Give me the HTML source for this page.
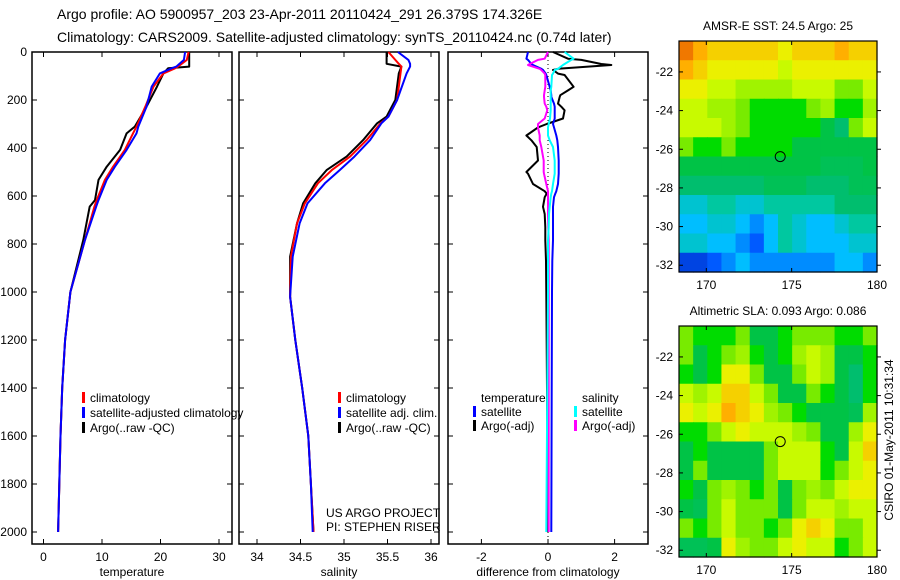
<!DOCTYPE html>
<html><head><meta charset="utf-8"><style>
body{margin:0;background:#fff;}
svg{display:block;font-family:"Liberation Sans",sans-serif;}
text{fill:#000;}
</style></head><body>
<svg id="s" width="900" height="580" viewBox="0 0 900 580"></svg>
<script>
// ---------- DATA ----------
const depthT = [0,33,61,68,89,144,228,311,339,408,478,533,617,644,783,1000,1200,1400,1600,1800,2000];
const tempClim = [24.8,24.5,23.0,22.5,20.5,18.8,17.4,15.9,15.3,13.9,11.9,10.5,9.1,8.7,7.1,4.6,3.7,3.2,2.9,2.7,2.5];
const tempSat  = [24.2,24.0,22.7,21.9,19.9,18.5,17.6,16.2,15.9,14.2,12.2,10.8,9.4,9.0,7.1,4.6,3.7,3.2,2.9,2.7,2.5];
const tempArgo = [24.9,24.9,24.9,21.3,20.5,19.4,17.6,15.6,14.2,13.1,10.8,9.4,8.8,7.9,6.8,4.6,3.7,3.2,2.9,2.7,2.5];
const depthS = [0,33,49,61,89,200,269,297,367,436,492,547,631,714,853,1019,1200,1400,1600,1800,2000];
const salClim = [35.51,35.59,35.63,35.66,35.65,35.61,35.51,35.42,35.26,35.07,34.86,34.70,34.55,34.46,34.39,34.38,34.44,34.52,34.59,34.62,34.65];
const salSat  = [35.62,35.74,35.76,35.76,35.72,35.61,35.51,35.43,35.30,35.12,34.95,34.78,34.58,34.49,34.41,34.38,34.44,34.52,34.59,34.62,34.64];
const salArgo = [35.49,35.49,35.49,35.66,35.63,35.59,35.49,35.38,35.22,35.03,34.80,34.67,34.53,34.46,34.38,34.38,34.44,34.52,34.59,34.62,34.65];
const depthD = [0,28,33,50,54,70,75,90,96,145,160,180,187,215,228,243,277,300,314,348,368,396,452,500,507,550,580,590,605,645,675,730,785,870,1000,1400,2000];
const dTempSat  = [-0.6,-0.65,-0.6,-0.5,-0.45,-0.2,-0.15,-0.07,-0.05,0.05,0.08,0.1,0.1,0.18,0.2,0.2,0.2,0.15,0.18,0.25,0.28,0.3,0.32,0.32,0.32,0.3,0.25,0.22,0.18,0.15,0.15,0.15,0.15,0.13,0.12,0.11,0.1];
const dTempArgo = [0.15,0.6,1.0,1.6,1.9,0.3,0.15,0.3,0.5,0.77,0.6,0.37,0.35,0.3,0.4,0.5,0.45,-0.04,-0.3,-0.65,-0.5,-0.34,-0.3,-0.65,-0.6,-0.45,-0.1,-0.04,-0.1,-0.15,-0.1,-0.08,-0.08,-0.06,-0.05,-0.03,0];
const dSalSat   = [0.5,0.77,0.7,0.5,0.45,0.3,0.2,0.15,0.12,0.1,0.08,0.08,0.08,0.08,0.08,0.08,0.06,0.02,0,0,0.05,0.15,0.2,0.2,0.2,0.15,0.12,0.1,0.08,0.05,0.03,0.02,0,0,0,-0.02,-0.05];
const dSalArgo  = [0,-0.1,-0.3,-0.55,-0.6,-0.25,-0.2,-0.1,-0.08,-0.08,-0.1,-0.12,-0.12,-0.1,-0.05,-0.02,-0.1,-0.3,-0.3,-0.25,-0.25,-0.2,-0.13,-0.13,-0.12,-0.05,0,0,0,0,0,0.01,0.02,0.02,0.02,0.02,0.02];
const depthTicks = [0,200,400,600,800,1000,1200,1400,1600,1800,2000];
const tempTicks = [0,10,20,30];
const salTicks = [34,34.5,35,35.5,36];
const diffTicks = [-2,0,2];
// map grids (colour level 0..10), rows north->south, cols west->east
const sstGrid = [
[9,8.5,8,8,8,8,8,7.5,8,8,8,8.5,8,8],
[8.5,8,7.5,7.5,7.5,7.5,7.5,7,7.5,7.5,7.5,7.5,7.5,7.5],
[7.5,7.5,7,7,6.5,6.5,6.5,6.5,7,7,7,6,6,7],
[7,7,6.5,6.5,6,5.5,5.5,5.5,5.5,6,6.5,5.5,5.5,6.5],
[7,7,7,6.5,6,5.5,5.5,5.5,5.5,5.5,5,4.5,6,7],
[6,5.5,5.5,6,5.5,5.5,5.5,5.5,5,5,5,5,5,5],
[5,5,5,5,5,5,5,5,5,5,4.8,4.8,4.8,5],
[4.5,4.5,4.5,4.5,4.5,4.5,4.8,4.8,4.8,4.5,4.5,4.5,4.8,4.8],
[3.5,3.5,4,4,3.5,3.5,4,4,4,4,4,4.5,4.5,4.5],
[3,3,3.5,3.5,3,2.5,3,4,3.5,3,3,3.5,4,4],
[3.5,3.5,3,3,2.5,2,3,4,3.5,3,3,3,3.5,3.5],
[1.5,1.5,2,2.5,3,2.5,2.5,2.5,2.5,2.5,2.5,3,3,2.5]];
const slaGrid = [
[6,5.5,5.5,5.5,6,5,5,5.5,6,6,6,5.5,5.5,6],
[6,5,5.5,6,6.5,5.5,5,5.5,6.5,7,6.5,5,5,5.5],
[5.5,5,5.5,7.5,7.5,6,5,5,6,7,6.5,5,4.5,5.5],
[7,6.5,7,8,8,7,6,5,5,6,5.5,5,4.5,5.5],
[7.5,7,7.5,8.5,8,7.5,6.5,6,5.5,5,5,5,4.8,6.5],
[5.5,5.5,6,7,7.5,7,7,7,6.5,6,5,5,6.5,7.5],
[5,5.5,5,5,5,5,6,7,7,7,5.5,5,7,8],
[5,6,5,5,5,5,6,7,7,7,5.5,6,7,7.5],
[5.5,5,6,6.5,6,5.5,6,5,6,6.5,6,7,7.5,7.5],
[5,4.8,6,7,6,6,6,5,6,7,7,6.5,7,7],
[6,5.5,6,7,6,6,5.5,6,7.5,8,7.5,6,6,7],
[4.8,4.8,5,7.5,6.5,6,6,7,7.5,7,7,5.5,6,7]];
const lonTicks=[170,175,180];
const latTicks=[-22,-24,-26,-28,-30,-32];
const argoPos=[174.33,-26.38];

// ---------- HELPERS ----------
const svg=document.getElementById('s');
const NS='http://www.w3.org/2000/svg';
function el(tag,attrs,parent){const e=document.createElementNS(NS,tag);for(const k in attrs)e.setAttribute(k,attrs[k]);(parent||svg).appendChild(e);return e;}
function txt(x,y,s,anchor,size,name){const t=el('text',{x:x,y:y,'font-size':size||12,'text-anchor':anchor||'start'});t.textContent=s;


return t;}
const Y0=52, PY=0.24;
const yD=d=>Y0+d*PY;
function panel(x0,x1,xs,ticks,label,name,leftLabels){
  const g=el('g',{});
  
  
  el('rect',{x:x0,y:52,width:x1-x0,height:492,fill:'none',stroke:'#000','stroke-width':1.5},g);
  ticks.forEach(v=>{const x=xs(v);el('line',{x1:x,x2:x,y1:544,y2:539,stroke:'#000'},g);el('line',{x1:x,x2:x,y1:52,y2:57,stroke:'#000'},g);
    const t=txt(x,561,String(v),'middle',12,'x-tick-label');g.appendChild(t);});
  depthTicks.forEach(d=>{const y=yD(d);el('line',{x1:x0,x2:x0+5,y1:y,y2:y,stroke:'#000'},g);el('line',{x1:x1,x2:x1-5,y1:y,y2:y,stroke:'#000'},g);
    if(leftLabels){const t=txt(x0-5,y+4,String(d),'end',12,'y-tick-label');g.appendChild(t);}});
  const t=txt((x0+x1)/2,576,label,'middle',12,'x-axis-title');g.appendChild(t);
  return g;
}
function line(xs,depths,vals,color,name,w){
  const pts=depths.map((d,i)=>xs(vals[i]).toFixed(1)+','+yD(d).toFixed(1)).join(' ');
  const p=el('polyline',{points:pts,fill:'none',stroke:color,'stroke-width':w||2,'stroke-linejoin':'round'});
  
  
}
function legend(x,y,color,label,name){
  const r=el('rect',{x:x,y:y-6,width:3,height:11,fill:color});
  
  
  txt(x+8,y+4,label,'start',12,name);
}

// ---------- TITLE ----------
txt(57,19,'Argo profile: AO 5900957_203 23-Apr-2011 20110424_291 26.379S 174.326E','start',14,'title-line-1');
txt(57,42,'Climatology: CARS2009. Satellite-adjusted climatology: synTS_20110424.nc (0.74d later)','start',14,'title-line-2');

// ---------- PANEL 1 temperature ----------
const xT=v=>43.5+v*5.85;
panel(32,232,xT,tempTicks,'temperature','temperature-panel',true);
line(xT,depthT,tempArgo,'#000','argo-temperature-line',2);
line(xT,depthT,tempClim,'#f00','climatology-temperature-line',2);
line(xT,depthT,tempSat,'#00f','satellite-temperature-line',2);
legend(82,398,'#f00','climatology','legend-climatology');
legend(82,413,'#00f','satellite-adjusted climatology','legend-satellite');
legend(82,428,'#000','Argo(..raw -QC)','legend-argo');

// ---------- PANEL 2 salinity ----------
const xS=v=>257+(v-34)*87;
panel(239,439,xS,salTicks,'salinity','salinity-panel',false);
line(xS,depthS,salArgo,'#000','argo-salinity-line',2);
line(xS,depthS,salClim,'#f00','climatology-salinity-line',2);
line(xS,depthS,salSat,'#00f','satellite-salinity-line',2);
legend(338,398,'#f00','climatology','legend-sal-climatology');
legend(338,413,'#00f','satellite adj. clim.','legend-sal-satellite');
legend(338,428,'#000','Argo(..raw -QC)','legend-sal-argo');
txt(326,517,'US ARGO PROJECT','start',12,'project-credit');
txt(326,531,'PI: STEPHEN RISER','start',12,'pi-credit');

// ---------- PANEL 3 difference ----------
const xDf=v=>548+v*33.3;
panel(448,648,xDf,diffTicks,'difference from climatology','difference-panel',false);
el('line',{x1:548,x2:548,y1:52,y2:544,stroke:'#000','stroke-dasharray':'1,3'});
line(xDf,depthD,dTempArgo,'#000','argo-temp-diff-line',2);
line(xDf,depthD,dTempSat,'#00f','satellite-temp-diff-line',2);
line(xDf,depthD,dSalArgo,'#f0f','argo-sal-diff-line',2);
line(xDf,depthD,dSalSat,'#0ff','satellite-sal-diff-line',2);
txt(481,402,'temperature','start',12,'legend-temperature-heading');
txt(582,402,'salinity','start',12,'legend-salinity-heading');
legend(473,412,'#00f','satellite','legend-diff-temp-sat');
legend(473,426,'#000','Argo(-adj)','legend-diff-temp-argo');
legend(574,412,'#0ff','satellite','legend-diff-sal-sat');
legend(574,426,'#f0f','Argo(-adj)','legend-diff-sal-argo');

// ---------- MAPS ----------
const palLevels=[0,2,3,4,4.5,5,5.5,6,7,7.5,8.5,9,10];
const palColors=[[0,0,140],[0,90,255],[0,190,255],[0,200,160],[0,190,110],[0,195,70],[0,220,0],[120,235,0],[200,250,0],[235,240,0],[255,175,0],[240,120,0],[200,40,0]];
function pal(v){
  if(v<=palLevels[0])return 'rgb('+palColors[0]+')';
  for(let i=1;i<palLevels.length;i++){if(v<=palLevels[i]){const f=(v-palLevels[i-1])/(palLevels[i]-palLevels[i-1]);
    const c=palColors[i-1].map((a,k)=>Math.round(a+(palColors[i][k]-a)*f));return 'rgb('+c+')';}}
  return 'rgb('+palColors[palColors.length-1]+')';
}
function map(top,bottom,grid,title,name){
  const x0=679,x1=877,lon0=168.4,lon1=180,lat0=-20.4,lat1=-32.35;
  const xm=l=>x0+(l-lon0)/(lon1-lon0)*(x1-x0);
  const ym=l=>top+(l-lat0)/(lat1-lat0)*(bottom-top);
  const g=el('g',{});
  
  
  const rows=grid.length,cols=grid[0].length,cw=(x1-x0)/cols,ch=(bottom-top)/rows;
  grid.forEach((row,i)=>row.forEach((v,j)=>{
    const c=el('rect',{x:x0+j*cw,y:top+i*ch,width:cw+0.6,height:ch+0.6,fill:pal(v)},g);
    
    
  }));
  el('rect',{x:x0,y:top,width:x1-x0,height:bottom-top,fill:'none',stroke:'#000','stroke-width':1.2},g);
  lonTicks.forEach(l=>{const x=xm(l);el('line',{x1:x,x2:x,y1:bottom,y2:bottom-4,stroke:'#000'},g);el('line',{x1:x,x2:x,y1:top,y2:top+4,stroke:'#000'},g);
    g.appendChild(txt(x,bottom+17,String(l),'middle',12,'lon-tick-label'));});
  latTicks.forEach(l=>{const y=ym(l);el('line',{x1:x0,x2:x0+4,y1:y,y2:y,stroke:'#000'},g);el('line',{x1:x1,x2:x1+4,y1:y,y2:y,stroke:'#000'},g);
    g.appendChild(txt(x0-6,y+4,String(l),'end',12,'lat-tick-label'));});
  const c=el('circle',{cx:xm(argoPos[0]),cy:ym(argoPos[1]),r:5,fill:'none',stroke:'#000','stroke-width':1},g);
  
  
  g.appendChild(txt(778,top-11,title,'middle',12,'map-title'));
}
map(41,272,sstGrid,'AMSR-E SST: 24.5 Argo: 25','sst-map');
map(326,557,slaGrid,'Altimetric SLA: 0.093 Argo: 0.086','sla-map');
const ct=txt(0,0,'CSIRO 01-May-2011 10:31:34','middle',12,'timestamp');
ct.setAttribute('transform','translate(893,440) rotate(-90)');
</script>
</body></html>
